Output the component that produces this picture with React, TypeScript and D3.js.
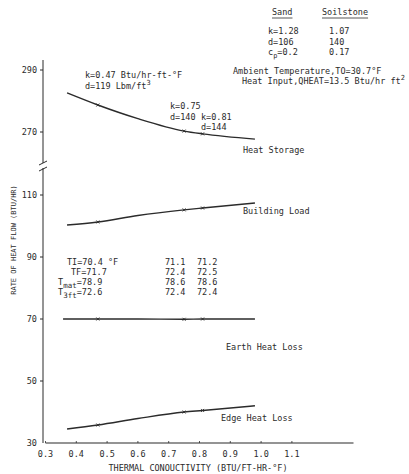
import React from "react";
import * as d3 from "d3";

// thermal conductivity (BTU/ft-hr-F)
const kLine = [0.37, 0.47, 0.6, 0.75, 0.81, 0.98];
const heatStorage = [282.6, 278.7, 274.3, 270.3, 269.4, 267.7];
const buildingLoad = [100.3, 101.3, 103.4, 105.2, 105.8, 107.4];
const earthHeatLoss = [70.0, 70.0, 70.0, 69.9, 70.0, 70.0];
const edgeHeatLoss = [34.5, 35.8, 37.9, 40.0, 40.5, 42.0];
const kMarks = [0.47, 0.75, 0.81];

const xTicks = [0.3, 0.4, 0.5, 0.6, 0.7, 0.8, 0.9, 1.0, 1.1];
const yTicksLow = [30, 50, 70, 90, 110];
const yTicksHigh = [270, 290];

const soilHeader = ["Sand", "Soilstone"];
const sandProps = ["k=1.28", "d=106", "c_p=0.2"];
const soilstoneProps = ["1.07", "140", "0.17"];
const tempLabels = ["TI=70.4 °F", "TF=71.7", "T_mat=78.9", "T_3ft=72.6"];
const temps075 = ["71.1", "72.4", "78.6", "72.4"];
const temps081 = ["71.2", "72.5", "78.6", "72.4"];

const FONT = "'DejaVu Sans Mono', 'Liberation Mono', monospace";
const INK = "#2b2b2b";

function drawChart(svgRef) {
  const svg = d3.select(svgRef.current);
  svg.selectAll("*").remove();
  svg.attr("width", 409).attr("height", 474);

  svg.append("rect").attr("width", 409).attr("height", 474).attr("fill", "#fff");

  const x = d3.scaleLinear().domain([0.3, 1.3]).range([45.5, 353.5]);
  const yLow = d3.scaleLinear().domain([30, 110]).range([443, 195]);
  const yHigh = d3.scaleLinear().domain([270, 290]).range([132, 70]);

  const g = svg.append("g").attr("stroke", INK).attr("fill", "none");

  // axes
  g.append("line").attr("x1", x(0.3)).attr("x2", x(1.3))
    .attr("y1", yLow(30)).attr("y2", yLow(30)).attr("stroke-width", 1.2);
  g.append("line").attr("x1", 43).attr("x2", 43)
    .attr("y1", yLow(30)).attr("y2", 168).attr("stroke-width", 1);
  g.append("line").attr("x1", 43).attr("x2", 43)
    .attr("y1", 163).attr("y2", 60).attr("stroke-width", 1);
  // axis break marks
  g.append("path").attr("d", "M39,165 L47,161").attr("stroke-width", 1);
  g.append("path").attr("d", "M39,171 L47,167").attr("stroke-width", 1);

  const yTickData = yTicksLow.map(v => ({ v, y: yLow(v) }))
    .concat(yTicksHigh.map(v => ({ v, y: yHigh(v) })));
  yTickData.filter(d => d.v !== 30).forEach(d => {
    g.append("line").attr("x1", 40).attr("x2", 43).attr("y1", d.y).attr("y2", d.y);
  });
  xTicks.forEach(v => {
    g.append("line").attr("x1", x(v)).attr("x2", x(v))
      .attr("y1", yLow(30)).attr("y2", yLow(30) - 2).attr("stroke-width", 0.8);
  });

  const text = svg.append("g").attr("font-family", FONT).attr("fill", INK)
    .attr("font-size", 8.5);

  yTickData.forEach(d => {
    text.append("text").attr("x", 37).attr("y", d.y + 3)
      .attr("text-anchor", "end").text(d.v);
  });
  xTicks.forEach(v => {
    text.append("text").attr("x", x(v)).attr("y", 457)
      .attr("text-anchor", "middle").text(d3.format(".1f")(v));
  });
  text.append("text").attr("x", 198).attr("y", 471).attr("text-anchor", "middle")
    .text("THERMAL CONOUCTIVITY (BTU/FT-HR-°F)");
  text.append("text").attr("transform", "translate(16,240) rotate(-90)")
    .attr("text-anchor", "middle").attr("font-size", 7)
    .text("RATE OF HEAT FLOW (BTU/HR)");

  // curves
  const series = [
    { vals: heatStorage, y: yHigh },
    { vals: buildingLoad, y: yLow },
    { vals: earthHeatLoss, y: yLow },
    { vals: edgeHeatLoss, y: yLow },
  ];
  series.forEach((s, i) => {
    const xs = i === 2 ? kLine.map((k, j) => (j === 0 ? 0.357 : k)) : kLine;
    const pts = xs.map((k, j) => [x(k), s.y(s.vals[j])]);
    const line = d3.line().curve(d3.curveMonotoneX);
    g.append("path").attr("d", line(pts)).attr("stroke-width", 1.4);
    kMarks.forEach(k => {
      const j = kLine.indexOf(k);
      const px = x(k), py = s.y(s.vals[j]);
      g.append("path").attr("d", `M${px - 1.5},${py - 1.5}L${px + 1.5},${py + 1.5}M${px - 1.5},${py + 1.5}L${px + 1.5},${py - 1.5}`)
        .attr("stroke-width", 0.9);
    });
  });

  // series labels
  text.append("text").attr("x", 243).attr("y", 153).text("Heat Storage");
  text.append("text").attr("x", 243).attr("y", 214).text("Building Load");
  text.append("text").attr("x", 226).attr("y", 350).text("Earth Heat Loss");
  text.append("text").attr("x", 221).attr("y", 421).text("Edge Heat Loss");

  // soil property table
  const hdrX = [272, 322];
  soilHeader.forEach((h, i) => {
    const t = text.append("text").attr("x", hdrX[i]).attr("y", 15).text(h);
    const w = t.node().getComputedTextLength();
    g.append("line").attr("x1", hdrX[i]).attr("x2", hdrX[i] + w)
      .attr("y1", 18).attr("y2", 18).attr("stroke-width", 0.8);
  });
  sandProps.forEach((p, i) => {
    const t = text.append("text").attr("x", 268).attr("y", 34 + i * 10.5);
    if (p.startsWith("c_p")) {
      t.append("tspan").text("c");
      t.append("tspan").attr("dy", 2.5).attr("font-size", 7).text("p");
      t.append("tspan").attr("dy", -2.5).text(p.slice(3));
    } else t.text(p);
    text.append("text").attr("x", 329).attr("y", 34 + i * 10.5).text(soilstoneProps[i]);
  });
  text.append("text").attr("x", 233).attr("y", 74).text("Ambient Temperature,TO=30.7°F");
  const hi = text.append("text").attr("x", 242).attr("y", 84).text("Heat Input,QHEAT=13.5 Btu/hr ft");
  hi.append("tspan").attr("dy", -4).attr("font-size", 7).text("2");

  // point annotations
  text.append("text").attr("x", 85).attr("y", 78).text("k=0.47 Btu/hr-ft-°F");
  const dd = text.append("text").attr("x", 85).attr("y", 89).text("d=119 Lbm/ft");
  dd.append("tspan").attr("dy", -4).attr("font-size", 7).text("3");
  text.append("text").attr("x", 170).attr("y", 109).text("k=0.75");
  text.append("text").attr("x", 170).attr("y", 120).text("d=140");
  text.append("text").attr("x", 201).attr("y", 120).text("k=0.81");
  text.append("text").attr("x", 201).attr("y", 130).text("d=144");

  // temperature block
  tempLabels.forEach((lab, i) => {
    const yy = 265 + i * 10;
    const t = text.append("text").attr("x", 85).attr("y", yy).attr("text-anchor", "end");
    if (lab.startsWith("T_")) {
      const [sub, rest] = lab.slice(2).split("=");
      t.append("tspan").text("T");
      t.append("tspan").attr("dy", 2.5).attr("font-size", 7.5).text(sub);
      t.append("tspan").attr("dy", -2.5).text("=" + rest);
    } else {
      t.text(lab);
    }
    if (i === 0) t.attr("text-anchor", "start").attr("x", 67);
    if (i === 1) t.attr("text-anchor", "start").attr("x", 71);
    if (i > 1) t.attr("text-anchor", "start").attr("x", 58);
    text.append("text").attr("x", 165).attr("y", yy).text(temps075[i]);
    text.append("text").attr("x", 197).attr("y", yy).text(temps081[i]);
  });
}

const App = () => {
  const svg = React.useRef(null);
  React.useEffect(() => {
    drawChart(svg);
  }, []);
  return (
    <svg ref={svg} style={{ position: "absolute", left: 0, top: 0 }} />
  );
};

export default App;
